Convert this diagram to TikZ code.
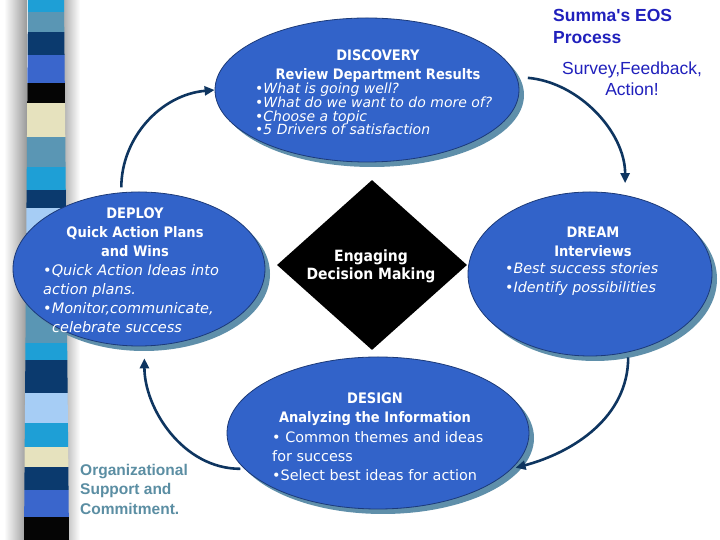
\documentclass[tikz,border=0pt]{standalone}
\usepackage{fontspec}
\setmainfont{DejaVu Sans}
\newfontfamily\hdfont[FakeStretch=0.9]{DejaVu Sans}
\newfontfamily\arialf{Liberation Sans}
\usetikzlibrary{shapes.geometric,arrows.meta,shadows}
\definecolor{ellblue}{HTML}{3263C9}
\definecolor{ellline}{HTML}{1C3A78}
\definecolor{ellshadow}{HTML}{5F8FAA}
\definecolor{arrowc}{HTML}{0E3560}
\definecolor{summablue}{HTML}{2020BC}
\definecolor{tealtext}{HTML}{5B8EA3}
\definecolor{scyan}{HTML}{1E9FD6}
\definecolor{ssteel}{HTML}{5A96B4}
\definecolor{snavy}{HTML}{0B3A6E}
\definecolor{sroyal}{HTML}{3A66CC}
\definecolor{sblack}{HTML}{050505}
\definecolor{scream}{HTML}{E6E2BE}
\definecolor{slight}{HTML}{A6CDF5}
\begin{document}
\begin{tikzpicture}[x=1pt,y=1pt,
  ell/.style={ellipse, inner sep=0, fill=ellblue, draw=ellline, line width=0.8pt,
    drop shadow={shadow xshift=5pt, shadow yshift=-5pt, fill=ellshadow, opacity=1}},
  arr/.style={draw=arrowc, line width=2.6pt, -{Triangle[length=10pt,width=9pt]}},
  hd/.style={font=\hdfont\bfseries\fontsize{14.5}{19}\selectfont, text=white, align=center, inner sep=0},
  itb/.style={font=\itshape\fontsize{14.4}{19}\selectfont, text=white, align=left, inner sep=0},
  upb/.style={font=\fontsize{14.4}{19}\selectfont, text=white, align=left, inner sep=0}]
\useasboundingbox (0,0) rectangle (720,540);
\fill[white] (0,0) rectangle (720,540);
\shade[left color=white, right color=black!40] (4,0) rectangle (27,540);
\shade[left color=black!30, right color=white] (64,0) rectangle (80,540);
\begin{scope}
\clip (28,540) -- (64,540) -- (69,0) -- (24,0) -- cycle;
\foreach \a/\b/\c in {0/12/scyan,12/32/ssteel,32/55/snavy,55/83/sroyal,83/103/sblack,
  103/137/scream,137/167/ssteel,167/190/scyan,190/208/snavy,208/233/slight,
  233/270/sroyal,270/303/scyan,303/343/ssteel,343/360/scyan,360/393/snavy,
  393/423/slight,423/447/scyan,447/467/scream,467/490/snavy,490/517/sroyal,517/540/sblack}
  \fill[\c] (0,540-\a) rectangle (100,540-\b);
\end{scope}

% ellipses
\node[ell, minimum width=304pt, minimum height=144pt] (discovery) at (367,450) {};
\node[ell, minimum width=252pt, minimum height=154pt] (deploy) at (139,271) {};
\node[ell, minimum width=244pt, minimum height=164pt] (dream) at (590,266) {};
\node[ell, minimum width=302pt, minimum height=152pt] (design) at (378,107) {};
\node[diamond, inner sep=0, minimum width=190pt, minimum height=170pt, fill=black] (dm) at (372,275) {};

% texts
\node[hd] (discT) at (378,473.5) {DISCOVERY\\Review Department Results};
\node[itb, anchor=west, font=\itshape\fontsize{14}{13.7}\selectfont] (discB) at (255,431)
  {•What is going well?\\•What do we want to do more of?\\•Choose a topic\\•5 Drivers of satisfaction};
\node[hd] (depT) at (135,308) {DEPLOY\\Quick Action Plans\\and Wins};
\node[itb, anchor=west, font=\itshape\fontsize{14.5}{19}\selectfont] (depB) at (43,241)
  {•Quick Action Ideas into\\action plans.\\•Monitor,communicate,\\\hspace*{9pt}celebrate success};
\node[hd] (dreT) at (593,298) {DREAM\\Interviews};
\node[itb, anchor=west, font=\itshape\fontsize{14.3}{19}\selectfont] (dreB) at (505,261) {•Best success stories\\•Identify possibilities};
\node[hd] (desT) at (375,131) {DESIGN\\Analyzing the Information};
\node[upb, anchor=west] (desB) at (272,84)
  {• Common themes and ideas\\for success\\•Select best ideas for action};
\node[hd, font=\hdfont\bfseries\fontsize{15.5}{18}\selectfont] (dmT) at (371,274) {Engaging\\Decision Making};

\node[font=\arialf\bfseries\fontsize{17.5}{22}\selectfont, text=summablue, align=left, anchor=west, inner sep=0]
  (summa) at (553,514) {Summa's EOS\\Process};
\node[font=\arialf\fontsize{17.5}{21}\selectfont, text=summablue, align=center, inner sep=0]
  (survey) at (632,461.5) {Survey,Feedback,\\Action!};
\node[font=\arialf\bfseries\fontsize{15.5}{19.5}\selectfont, text=tealtext, align=left, anchor=west, inner sep=0]
  (orgs) at (80,51) {Organizational\\Support and\\Commitment.};

% arrows
\draw[arr, shorten <=5pt] (deploy.103) to[out=90, in=185] (discovery.west);
\draw[arr, shorten <=11pt, shorten >=12pt] (discovery.5) to[out=-5, in=90] (dream.66);
\draw[arr, shorten <=5pt, shorten >=4pt] (dream.-64) to[out=-90, in=15] (design.-15);
\draw[arr, shorten <=4pt, shorten >=12pt] (design.195) to[out=180, in=-90] (deploy.-86);
\end{tikzpicture}
\end{document}
